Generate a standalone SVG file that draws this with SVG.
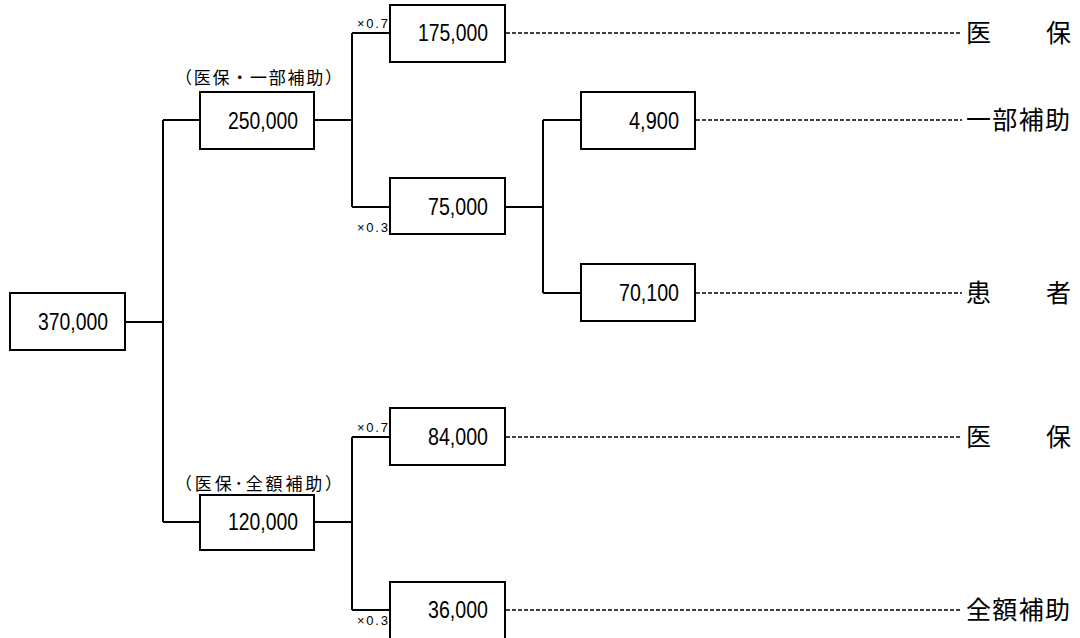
<svg xmlns="http://www.w3.org/2000/svg" width="1080" height="638" viewBox="0 0 1080 638">
<style>
.box{fill:#fff;stroke:#000;stroke-width:2}
.ln{fill:none;stroke:#000;stroke-width:2}
.dash{fill:none;stroke:#000;stroke-width:1.3;stroke-dasharray:4 2}
.num{font-family:"Liberation Sans","Noto Sans CJK JP",sans-serif;font-size:23px;text-anchor:end;fill:#000}
.mul{font-family:"Liberation Sans","Noto Sans CJK JP",sans-serif;font-size:13px;fill:#000}
.cap{font-family:"Noto Sans CJK JP",sans-serif;font-size:17px;fill:#000}
.lab{font-family:"Noto Sans CJK JP",sans-serif;font-size:25px;fill:#000}
</style>
<rect width="1080" height="638" fill="#fff"/>
<g id="connectors">
<path class="ln" d="M125 322H163M163 120V522M163 120H200M163 522H200"/>
<path class="ln" d="M314 120H352M352 33V207M352 33H390M352 207H390"/>
<path class="ln" d="M505 207H543M543 120V293M543 120H581M543 293H581"/>
<path class="ln" d="M314 522H352M352 437V610M352 437H390M352 610H390"/>
<path class="dash" d="M506 33H962M696 120H962M696 293H962M506 437H962M506 610H962"/>
</g>
<g id="n370000"><rect class="box" x="10" y="293" width="115" height="57"/><text class="num" x="108" y="330" textLength="70" lengthAdjust="spacingAndGlyphs">370,000</text></g>
<g id="n250000"><text class="cap" x="175" y="84" textLength="167" lengthAdjust="spacing">（医保・一部補助）</text><rect class="box" x="200" y="92" width="114" height="57"/><text class="num" x="298" y="128.5" textLength="70" lengthAdjust="spacingAndGlyphs">250,000</text></g>
<g id="n175000"><rect class="box" x="390" y="5" width="115" height="57"/><text class="mul" x="357" y="28" textLength="31" lengthAdjust="spacing">×0.7</text><text class="num" x="488" y="41" textLength="70" lengthAdjust="spacingAndGlyphs">175,000</text></g>
<g id="n75000"><rect class="box" x="390" y="178" width="115" height="56"/><text class="mul" x="357" y="232" textLength="31" lengthAdjust="spacing">×0.3</text><text class="num" x="488" y="215" textLength="60" lengthAdjust="spacingAndGlyphs">75,000</text></g>
<g id="n4900"><rect class="box" x="581" y="92" width="114" height="57"/><text class="num" x="679" y="128.5" textLength="50" lengthAdjust="spacingAndGlyphs">4,900</text></g>
<g id="n70100"><rect class="box" x="581" y="264" width="114" height="57"/><text class="num" x="679" y="301" textLength="60" lengthAdjust="spacingAndGlyphs">70,100</text></g>
<g id="n120000"><text class="cap" x="175" y="490" textLength="167" lengthAdjust="spacing">（医保･全額補助）</text><rect class="box" x="200" y="495" width="114" height="55"/><text class="num" x="298" y="530" textLength="70" lengthAdjust="spacingAndGlyphs">120,000</text></g>
<g id="n84000"><rect class="box" x="390" y="408" width="115" height="57"/><text class="mul" x="357" y="432" textLength="31" lengthAdjust="spacing">×0.7</text><text class="num" x="488" y="445" textLength="60" lengthAdjust="spacingAndGlyphs">84,000</text></g>
<g id="n36000"><rect class="box" x="390" y="582" width="115" height="70"/><text class="mul" x="357" y="625" textLength="31" lengthAdjust="spacing">×0.3</text><text class="num" x="488" y="618" textLength="60" lengthAdjust="spacingAndGlyphs">36,000</text></g>
<g id="labels">
<text class="lab" x="966" y="42">医<tspan x="1046">保</tspan></text>
<text class="lab" x="966" y="129" textLength="104" lengthAdjust="spacing">一部補助</text>
<text class="lab" x="966" y="302">患<tspan x="1046">者</tspan></text>
<text class="lab" x="966" y="446">医<tspan x="1046">保</tspan></text>
<text class="lab" x="966" y="619" textLength="104" lengthAdjust="spacing">全額補助</text>
</g>
</svg>
